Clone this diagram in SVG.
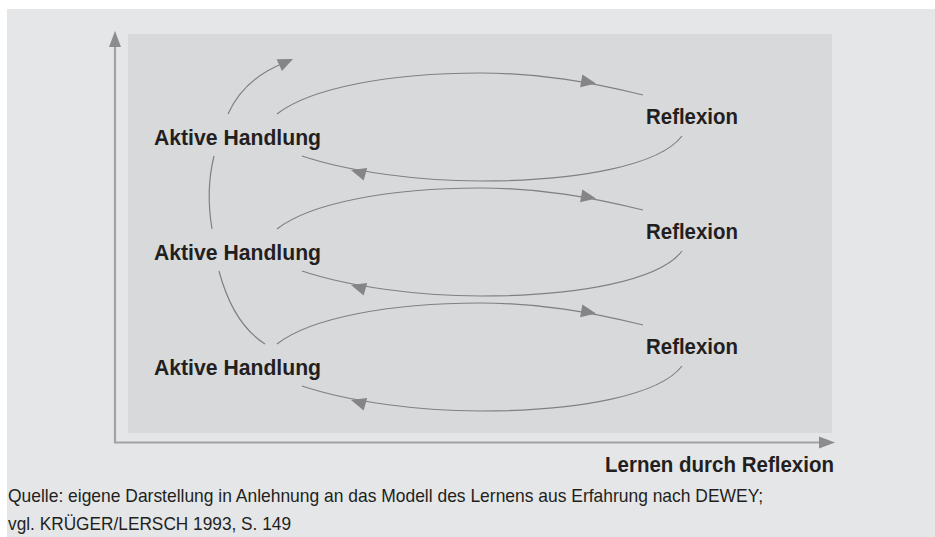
<svg xmlns="http://www.w3.org/2000/svg" width="935" height="537" viewBox="0 0 935 537">
<defs>
<style>
.bg{fill:#e5e6e8}
.panel{fill:#d8d9db}
.axis{stroke:#a2a2a4;stroke-width:2.2;fill:none}
.axhead{fill:#8c8c8e}
.conn{stroke:#808083;stroke-width:1.2;fill:none}
.lbl{font-family:"Liberation Sans",Arial,sans-serif;font-weight:bold;fill:#231f20}
.src{font-family:"Liberation Sans",Arial,sans-serif;font-size:19px;fill:#231f20}
</style>
<polygon id="ah" points="0,0 -15,-6.5 -15,6.5" fill="#858588"/>
</defs>
<rect class="bg" x="7" y="9" width="928" height="528"/>
<rect class="panel" x="128" y="34" width="704" height="399"/>
<g id="axes">
<path class="axis" d="M115,46 V442.5 H821"/>
<polygon class="axhead" points="115,31 109,47 121,47"/>
<polygon class="axhead" points="835,442.5 819,436.5 819,448.5"/>
</g>
<g id="connectors">
<path class="conn" d="M228,114 C238,92 256,74 284,63"/>
<use href="#ah" transform="translate(293,59) rotate(-24)"/>
<path class="conn" d="M214,156 C208,180 208,205 212,229"/>
<path class="conn" d="M219,271 C228,305 243,330 265,344"/>
<path class="conn" d="M277,114 C310,88 390,73 480,73 C540,73 590,82 643,95"/>
<use href="#ah" transform="translate(596,83.5) rotate(10)"/>
<path class="conn" d="M682,136 C660,165 580,181 480,181 C420,181 350,172 302,156"/>
<use href="#ah" transform="translate(351,170) rotate(196)"/>
<path class="conn" d="M277,229 C310,203 390,188 480,188 C540,188 590,197 643,210"/>
<use href="#ah" transform="translate(596,198.5) rotate(10)"/>
<path class="conn" d="M682,251 C660,280 580,296 480,296 C420,296 350,287 302,271"/>
<use href="#ah" transform="translate(351,285) rotate(196)"/>
<path class="conn" d="M277,344 C310,318 390,303 480,303 C540,303 590,312 643,325"/>
<use href="#ah" transform="translate(596,313.5) rotate(10)"/>
<path class="conn" d="M682,366 C660,395 580,411 480,411 C420,411 350,402 302,386"/>
<use href="#ah" transform="translate(351,400) rotate(196)"/>
</g>
<g id="aktiv1"><text class="lbl" x="154" y="145" font-size="22.5" textLength="167" lengthAdjust="spacingAndGlyphs">Aktive Handlung</text></g>
<g id="aktiv2"><text class="lbl" x="154" y="260" font-size="22.5" textLength="167" lengthAdjust="spacingAndGlyphs">Aktive Handlung</text></g>
<g id="aktiv3"><text class="lbl" x="154" y="375" font-size="22.5" textLength="167" lengthAdjust="spacingAndGlyphs">Aktive Handlung</text></g>
<g id="reflex1"><text class="lbl" x="646" y="124" font-size="22" textLength="92" lengthAdjust="spacingAndGlyphs">Reflexion</text></g>
<g id="reflex2"><text class="lbl" x="646" y="239" font-size="22" textLength="92" lengthAdjust="spacingAndGlyphs">Reflexion</text></g>
<g id="reflex3"><text class="lbl" x="646" y="354" font-size="22" textLength="92" lengthAdjust="spacingAndGlyphs">Reflexion</text></g>
<g id="xlabel"><text class="lbl" x="605" y="472" font-size="22" textLength="229" lengthAdjust="spacingAndGlyphs">Lernen durch Reflexion</text></g>
<g id="source">
<text class="src" x="8" y="502" textLength="755" lengthAdjust="spacingAndGlyphs">Quelle: eigene Darstellung in Anlehnung an das Modell des Lernens aus Erfahrung nach DEWEY;</text>
<text class="src" x="8" y="530" textLength="283" lengthAdjust="spacingAndGlyphs">vgl. KRÜGER/LERSCH 1993, S. 149</text>
</g>
</svg>
